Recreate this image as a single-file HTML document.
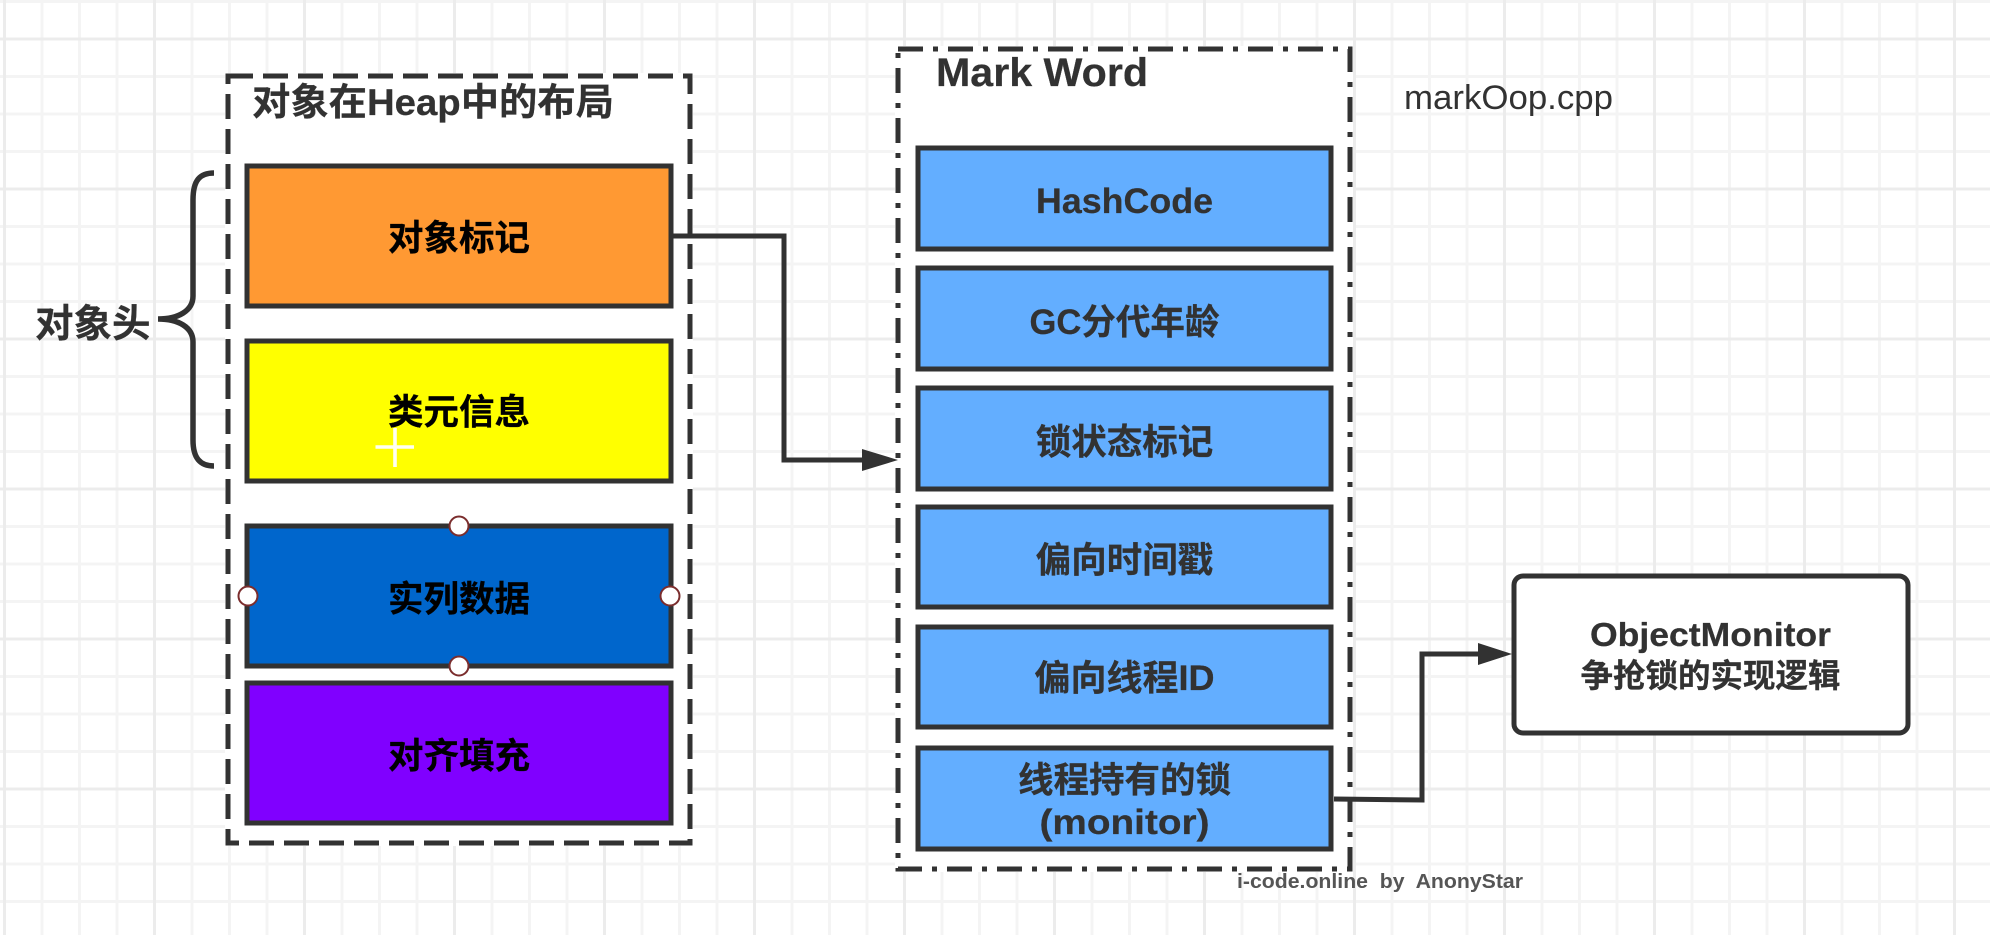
<!DOCTYPE html>
<html lang="zh">
<head>
<meta charset="utf-8">
<title>Mark Word</title>
<style>
html,body{margin:0;padding:0;background:#fff;width:1990px;height:935px;overflow:hidden}
svg{display:block}
text{font-family:"Liberation Sans","Noto Sans CJK SC",sans-serif;font-weight:700;fill:#323232;stroke:#323232;stroke-width:.25px}
.k{fill:#000;stroke:#000;font-size:35.5px;text-anchor:middle}
.b{font-size:35.5px;text-anchor:middle}
</style>
</head>
<body>
<svg xmlns="http://www.w3.org/2000/svg" width="1990" height="935" viewBox="0 0 1990 935">
<defs>
<pattern id="minor" width="37.5" height="37.5" patternUnits="userSpaceOnUse" x="2.5" y="-0.5">
<path d="M2 0V37.5M0 2H37.5" stroke="#f4f4f4" stroke-width="3" fill="none"/>
</pattern>
<pattern id="major" width="150" height="150" patternUnits="userSpaceOnUse" x="2.5" y="37">
<path d="M2 0V150M0 2H150" stroke="#ececec" stroke-width="3" fill="none"/>
</pattern>
</defs>
<rect width="1990" height="935" fill="#fff"/>
<rect width="1990" height="935" fill="url(#minor)"/>
<rect width="1990" height="935" fill="url(#major)"/>

<!-- left container -->
<rect x="225" y="73" width="468" height="773" fill="#fff"/>
<rect x="228" y="76" width="462" height="767" fill="#fff" stroke="#323232" stroke-width="5" stroke-dasharray="25 10"/>
<text x="252" y="115" font-size="37.5" textLength="362" lengthAdjust="spacingAndGlyphs">对象在Heap中的布局</text>

<rect x="247" y="166" width="424" height="140" fill="#ff9933" stroke="#323232" stroke-width="5"/>
<rect x="247" y="341" width="424" height="140" fill="#ffff00" stroke="#323232" stroke-width="5"/>
<rect x="247" y="526" width="424" height="140" fill="#0066cc" stroke="#323232" stroke-width="5"/>
<rect x="247" y="683" width="424" height="140" fill="#8000ff" stroke="#323232" stroke-width="5"/>
<text class="k" x="459" y="250">对象标记</text>
<text class="k" x="459" y="424">类元信息</text>
<text class="k" x="459" y="611">实列数据</text>
<text class="k" x="459" y="768">对齐填充</text>

<!-- cursor cross -->
<path d="M395 428V467M375.5 447H414" stroke="#fff" stroke-width="3.6" fill="none" opacity=".95"/>

<!-- selection handles -->
<g fill="#fff" stroke="#7b2d2d" stroke-width="2">
<circle cx="459" cy="526" r="9.5"/>
<circle cx="459" cy="666" r="9.5"/>
<circle cx="248" cy="596" r="9.5"/>
<circle cx="670" cy="596" r="9.5"/>
</g>

<!-- brace -->
<path d="M214 173C200 173 193 180 193 200V296C193 311 178 319 158 319C178 319 193 327 193 342V440C193 458 200 466 214 466" fill="none" stroke="#323232" stroke-width="5.5"/>
<text x="35" y="337" font-size="38.5">对象头</text>

<!-- right container -->
<rect x="895" y="46" width="458" height="826" fill="#fff"/>
<rect x="898" y="49" width="452" height="820" fill="#fff" stroke="#323232" stroke-width="5" stroke-dasharray="25 10 5 10"/>
<text x="936" y="86" font-size="40" textLength="212" lengthAdjust="spacingAndGlyphs">Mark Word</text>
<text x="1404" y="109" font-size="34" style="font-weight:400;stroke:none" textLength="209" lengthAdjust="spacingAndGlyphs">markOop.cpp</text>

<g fill="#63aeff" stroke="#323232" stroke-width="5">
<rect x="918" y="148" width="413" height="101"/>
<rect x="918" y="268" width="413" height="101"/>
<rect x="918" y="388" width="413" height="101"/>
<rect x="918" y="507" width="413" height="100"/>
<rect x="918" y="627" width="413" height="100"/>
<rect x="918" y="748" width="413" height="101"/>
</g>
<text class="b" x="1124.5" y="213" textLength="177" lengthAdjust="spacingAndGlyphs">HashCode</text>
<text class="b" x="1124.5" y="334" textLength="190" lengthAdjust="spacingAndGlyphs">GC分代年龄</text>
<text class="b" x="1124.5" y="454">锁状态标记</text>
<text class="b" x="1124.5" y="572">偏向时间戳</text>
<text class="b" x="1124.5" y="690" textLength="180" lengthAdjust="spacingAndGlyphs">偏向线程ID</text>
<text class="b" x="1124.5" y="792">线程持有的锁</text>
<text class="b" x="1124.5" y="834" textLength="170" lengthAdjust="spacingAndGlyphs">(monitor)</text>

<!-- object monitor -->
<rect x="1514" y="576" width="394" height="157" rx="9" ry="9" fill="#fff" stroke="#323232" stroke-width="5"/>
<text x="1710.5" y="646" font-size="33" text-anchor="middle" textLength="241" lengthAdjust="spacingAndGlyphs">ObjectMonitor</text>
<text x="1710.5" y="687" font-size="32.5" text-anchor="middle">争抢锁的实现逻辑</text>

<!-- connectors -->
<path d="M671 236H784V460H864" fill="none" stroke="#323232" stroke-width="5"/>
<path d="M862 449L898 460L862 471Z" fill="#323232"/>
<path d="M1334 799L1422 800V654H1480" fill="none" stroke="#323232" stroke-width="5"/>
<path d="M1478 643L1512 654L1478 665Z" fill="#323232"/>

<!-- watermark -->
<text x="1237" y="888" font-size="20" style="fill:#555;stroke:none" textLength="286" lengthAdjust="spacingAndGlyphs" xml:space="preserve">i-code.online  by  AnonyStar</text>
</svg>
</body>
</html>
